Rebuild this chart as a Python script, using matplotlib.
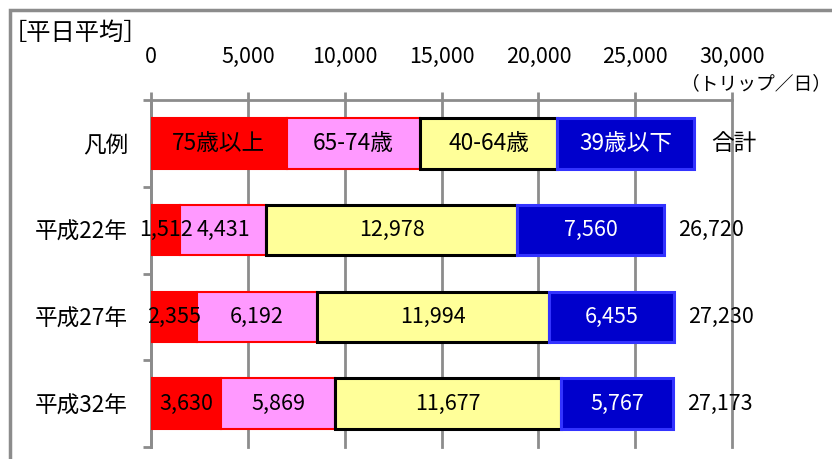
import matplotlib.pyplot as plt
from matplotlib.patches import Rectangle

plt.rcParams['font.family'] = ['Noto Sans CJK JP', 'DejaVu Sans']

# data
rows = ['凡例', '平成22年', '平成27年', '平成32年']
groups = ['75歳以上', '65-74歳', '40-64歳', '39歳以下']
legend_vals = [7000, 6900, 7050, 7100]
age75 = [1512, 2355, 3630]
age65 = [4431, 6192, 5869]
age40 = [12978, 11994, 11677]
age39 = [7560, 6455, 5767]
totals = ['26,720', '27,230', '27,173']
xticks = [0, 5000, 10000, 15000, 20000, 25000, 30000]

face = ['#FF0000', '#FF99FF', '#FFFF99', '#0000CC']
edge = ['#FF0000', '#FF0000', '#000000', '#3333FF']
lw = [1.5, 1.5, 2.2, 2.2]
txt = ['black', 'black', 'black', 'white']

fig = plt.figure(figsize=(8.32, 4.59), dpi=100)
ax = fig.add_axes([151 / 832, 1 - 447 / 459, 581 / 832, 347 / 459])

grey = '#8C8C8C'
fs = 15.5   # numbers
fj = 16.3   # japanese text

series = [age75, age65, age40, age39]
h = 0.58

# legend row
left = 0
for i in range(4):
    ax.barh(0, legend_vals[i], left=left, height=h, color=face[i],
            edgecolor=edge[i], linewidth=lw[i], zorder=3)
    ax.text(left + legend_vals[i] / 2, 0, groups[i], ha='center', va='center',
            color=txt[i], fontsize=fj, zorder=4)
    left += legend_vals[i]
ax.annotate('合計', (left, 0), xytext=(12, 0), textcoords='offset points',
            ha='left', va='center', fontsize=fj)

# data rows
for r in range(3):
    y = r + 1
    left = 0
    for i in range(4):
        v = series[i][r]
        ax.barh(y, v, left=left, height=h, color=face[i],
                edgecolor=edge[i], linewidth=lw[i], zorder=3)
        ax.text(left + v / 2, y, f'{v:,}', ha='center', va='center',
                color=txt[i], fontsize=fs, zorder=4)
        left += v
    ax.annotate(totals[r], (left, y), xytext=(10, 0), textcoords='offset points',
                ha='left', va='center', fontsize=fs)

ax.set_xlim(0, 30000)
ax.set_ylim(3.5, -0.5)
ax.set_xticks(xticks)
ax.set_xticklabels([f'{t:,}' for t in xticks], fontsize=fs)
ax.xaxis.tick_top()
ax.tick_params(axis='x', length=6, width=2, color=grey, pad=17)
ax.grid(axis='x', color=grey, linewidth=2, zorder=1)
for gl in ax.get_xgridlines():
    gl.set_clip_on(False)

ax.set_yticks(range(4))
ax.set_yticklabels(rows, fontsize=fj)
ax.set_yticks([-0.5, 0.5, 1.5, 2.5, 3.5], minor=True)
ax.tick_params(axis='y', which='major', length=0, pad=16.5)
ax.tick_params(axis='y', which='minor', length=6, width=2, color=grey)

for s in ['right', 'bottom']:
    ax.spines[s].set_visible(False)
for s in ['top', 'left']:
    ax.spines[s].set_color(grey)
    ax.spines[s].set_linewidth(2)
ax.set_axisbelow(True)

fig.text(3 / 832, 1 - 33 / 459, '［平日平均］', fontsize=17.5, va='center', ha='left')
fig.text(831 / 832, 1 - 84 / 459, '（トリップ／日）', fontsize=13.5, va='center', ha='right')

fig.patches.append(Rectangle((10 / 832, -0.1), 1.0, 1 - 10 / 459 + 0.1,
                             transform=fig.transFigure, fill=False,
                             edgecolor=grey, linewidth=2.5))

fig.savefig('out.png', dpi=100)
